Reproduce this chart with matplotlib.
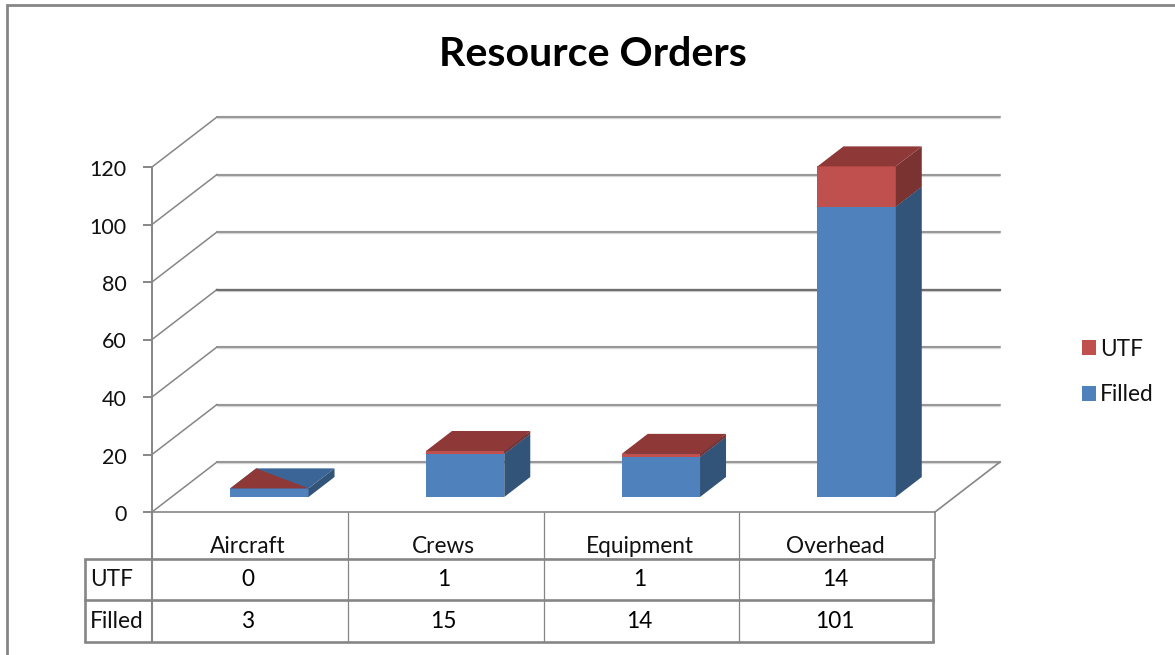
import matplotlib
matplotlib.use("Agg")
import matplotlib.pyplot as plt
from matplotlib.patches import Patch
from matplotlib.transforms import blended_transform_factory, ScaledTranslation

categories = ["Aircraft", "Crews", "Equipment", "Overhead"]
filled = [3, 15, 14, 101]
utf = [0, 1, 1, 14]
y_ticks = [0, 20, 40, 60, 80, 100, 120]
title = "Resource Orders"

W, H = 1175, 655
GREY = "#868686"
FONT = "Lato"
# Oblique projection: a full wall depth in data units
WALL_DX, WALL_DY = 65 / 195.75, 50 / 2.875
BAR_W = 0.4
D0, D1 = 0.3, 0.7
BLUE = ("#4F81BD", "#335479", "#3B6596")
RED = ("#C0504D", "#7A3331", "#8E3937")

fig = plt.figure(figsize=(W / 100, H / 100), dpi=100, facecolor="white")
px = fig.add_axes([0, 0, 1, 1], zorder=1)
px.set_xlim(0, W); px.set_ylim(H, 0); px.axis("off")
ax = fig.add_axes([152 / W, (H - 512) / H, (935 - 152) / W, (512 - 167) / H], zorder=2)
ax.set_xlim(0, 4); ax.set_ylim(0, 120)
ax.patch.set_alpha(0)
for s in ax.spines.values():
    s.set_visible(False)
ax.set_xticks([])
ax.set_yticks(y_ticks)
ax.tick_params(axis="y", length=6.5, width=1.4, color=GREY, pad=12, labelsize=15.5)
down = ScaledTranslation(0, -1 / 100, fig.dpi_scale_trans)
for t in ax.get_yticklabels():
    t.set_fontfamily(FONT); t.set_color("#111111")
    t.set_transform(t.get_transform() + down)


def proj(x, y, d):
    return x + d * WALL_DX, y + d * WALL_DY


# gridlines on the wall and the side wall
for v in y_ticks:
    x0, y0 = proj(0, v, 0); x1, y1 = proj(0, v, 1); x2, y2 = proj(4, v, 1)
    ax.plot([x1, x2], [y1, y2], color="#d6d6d6", lw=2.4, clip_on=False, zorder=1, solid_capstyle="butt")
    ax.plot([x0, x1], [y0, y1], color=GREY, lw=1.1, clip_on=False, zorder=1.1)
    ax.plot([x1, x2], [y1, y2], color=GREY if v != 60 else "#6f6f6f",
            lw=1.1 if v != 60 else 1.6, clip_on=False, zorder=1.1)
# axis and floor
ax.plot([0, 0], [0, 120], color=GREY, lw=1.4, clip_on=False, zorder=1.2)
ax.plot([0, 4], [0, 0], color=GREY, lw=1.2, clip_on=False, zorder=1.2)
rx, ry = proj(4, 0, 1)
ax.plot([4, rx], [0, ry], color=GREY, lw=1.2, clip_on=False, zorder=1.2)

# stacked bars
bottom = [0.0] * len(categories)
for series, cols, label in ((filled, BLUE, "Filled"), (utf, RED, "UTF")):
    for i, (val, b) in enumerate(zip(series, bottom)):
        left = i + 0.5 - BAR_W / 2
        right = left + BAR_W
        top = b + val
        fx0, fb = proj(left, b, D0); fx1, ft = proj(right, top, D0)
        bx1, bb = proj(right, b, D1); bx1, bt = proj(right, top, D1)
        bx0, _ = proj(left, top, D1)
        if val > 0:
            ax.bar(fx0, val, bottom=fb, width=BAR_W, align="edge", color=cols[0], lw=0, zorder=3, clip_on=False)
            ax.fill([fx1, bx1, bx1, fx1], [fb, bb, bt, ft], color=cols[1], lw=0, zorder=3, clip_on=False)
            ax.fill([fx0, fx1, bx1, bx0], [ft, ft, bt, bt], color=cols[2], lw=0, zorder=3, clip_on=False)
        else:
            # a zero-height segment shows as one half of the cap
            ax.fill([fx0, fx1, bx0], [ft, ft, bt], color=cols[2], lw=0, zorder=3.1, clip_on=False)
    bottom = [b + v for b, v in zip(bottom, series)]

# data table
def hline(y, x0, x1, lw):
    px.plot([x0, x1], [y, y], color=GREY, lw=lw, solid_capstyle="projecting")

def vline(x, y0, y1, lw):
    px.plot([x, x], [y0, y1], color=GREY, lw=lw, solid_capstyle="butt")

for y in (559, 600, 642):
    hline(y, 85, 933, 1.9)
vline(85, 559, 642, 1.9)
vline(152, 512, 642, 1.5)
vline(933, 559, 642, 1.9)
vline(935, 512, 559, 1.2)
for i in (1, 2, 3):
    xp = 152 + 195.75 * i
    vline(xp, 512, 642, 0.9)

left2 = ScaledTranslation(-2 / 100, 0, fig.dpi_scale_trans)
tr = blended_transform_factory(ax.transData, px.transData) + left2
TS = 16.3
for i, c in enumerate(categories):
    ax.text(i + 0.5, 546.5, c, transform=tr, ha="center", va="center", fontsize=TS, family=FONT, color="#111111")
    ax.text(i + 0.5, 579, str(utf[i]), transform=tr, ha="center", va="center", fontsize=TS, family=FONT, color="#000000")
    ax.text(i + 0.5, 621, str(filled[i]), transform=tr, ha="center", va="center", fontsize=TS, family=FONT, color="#000000")
px.text(90, 579.5, "UTF", ha="left", va="center", fontsize=TS, family=FONT, color="#111111")
px.text(90, 621, "Filled", ha="left", va="center", fontsize=TS, family=FONT, color="#111111")

# chart frame
px.plot([7, 7, W], [H, 5, 5], color=GREY, lw=2.0, solid_joinstyle="miter")

px.text(593, 55, title, ha="center", va="center", fontsize=29.6, fontweight="bold", family=FONT, color="black")

handles = [Patch(facecolor=RED[0], label="UTF"), Patch(facecolor=BLUE[0], label="Filled")]
leg = px.legend(handles=handles, loc="center left", bbox_to_anchor=(1075, 372), bbox_transform=px.transData,
                frameon=False, prop={"family": FONT, "size": TS}, handlelength=0.62, handleheight=0.6,
                handletextpad=0.2, labelspacing=1.1, borderpad=0, borderaxespad=0.3)
for t in leg.get_texts():
    t.set_color("#111111")

fig.savefig("out.png", dpi=100)
